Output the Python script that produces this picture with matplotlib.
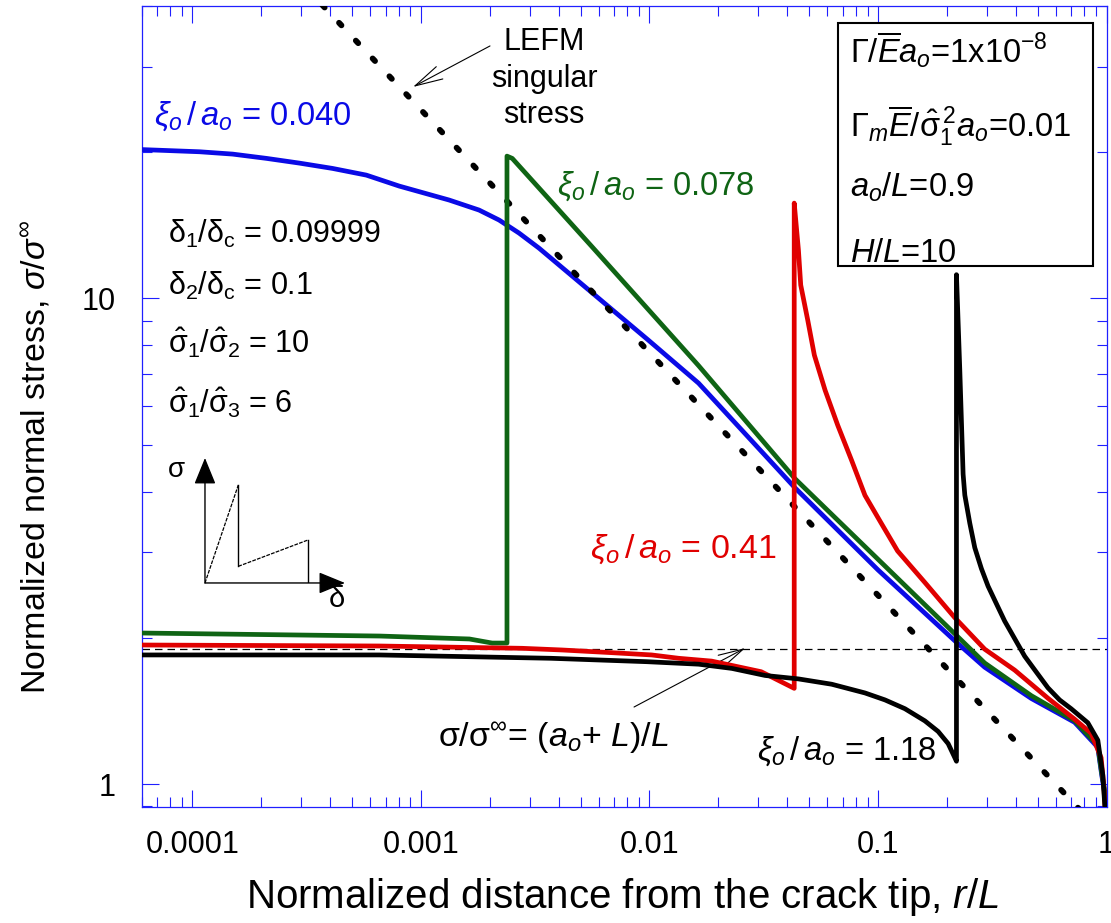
import matplotlib
matplotlib.use('Agg')
import matplotlib.pyplot as plt
from matplotlib.patches import Rectangle
from matplotlib.ticker import FixedLocator, FixedFormatter, LogLocator, NullFormatter

plt.rcParams['font.family'] = ['Liberation Sans', 'DejaVu Sans']
plt.rcParams['mathtext.fontset'] = 'custom'
plt.rcParams['mathtext.rm'] = 'Liberation Sans'
plt.rcParams['mathtext.it'] = 'Liberation Sans:italic'
plt.rcParams['mathtext.bf'] = 'Liberation Sans:bold'
plt.rcParams['mathtext.sf'] = 'Liberation Sans'
plt.rcParams['mathtext.default'] = 'regular'

# ---------------- data ----------------
x_ticks = [1e-4, 1e-3, 1e-2, 1e-1, 1]
x_tick_labels = ['0.0001', '0.001', '0.01', '0.1', '1']
y_ticks = [1, 10]
y_tick_labels = ['1', '10']

# xi_o/a_o = 0.040 (blue)
blue_x = [6.0e-5, 1.076e-4, 1.50e-4, 2.111e-4, 2.941e-4, 4.099e-4, 5.769e-4, 8.04e-4,
          1.329e-3, 1.797e-3, 2.197e-3, 2.687e-3, 3.286e-3, 6.0e-3, 9.9e-3, 0.0164,
          0.0434, 0.100, 0.220, 0.293, 0.469, 0.725, 0.916, 0.954, 0.985, 1.0]
blue_y = [20.25, 20.04, 19.82, 19.42, 18.99, 18.52, 17.94, 17.03,
          15.94, 15.20, 14.50, 13.63, 12.69, 10.0, 8.2, 6.69,
          4.07, 2.76, 1.96, 1.74, 1.50, 1.34, 1.19, 1.04, 0.95, 0.80]

# xi_o/a_o = 0.078 (green)
green_x = [6.0e-5, 6.6e-4, 1.63e-3, 2.05e-3, 2.38e-3, 2.38e-3, 2.51e-3, 5.61e-3,
           0.0164, 0.0434, 0.220, 0.293, 0.469, 0.725, 0.916, 0.954, 0.985, 1.0]
green_y = [2.046, 2.017, 1.989, 1.951, 1.951, 19.63, 19.42, 12.77,
           7.27, 4.25, 2.025, 1.775, 1.52, 1.35, 1.20, 1.05, 0.96, 0.80]

# xi_o/a_o = 0.41 (red)
red_x = [6.0e-5, 6.57e-4, 2.77e-3, 4.14e-3, 6.85e-3, 0.01023, 0.01343, 0.01871,
         0.03083, 0.0430, 0.0430, 0.04487, 0.04592, 0.04928, 0.05268, 0.05869,
         0.06666, 0.07666, 0.08772, 0.1031, 0.1218, 0.1604, 0.2169, 0.2932,
         0.3965, 0.5543, 0.7249, 0.8566, 0.9471, 0.9731, 1.0]
red_y = [1.933, 1.924, 1.903, 1.888, 1.864, 1.844, 1.815, 1.791,
         1.703, 1.574, 15.71, 12.57, 10.65, 9.02, 7.64, 6.47,
         5.48, 4.64, 3.93, 3.45, 3.02, 2.60, 2.20, 1.895,
         1.716, 1.502, 1.360, 1.272, 1.133, 0.992, 0.80]

# xi_o/a_o = 1.18 (black)
black_x = [6.0e-5, 6.57e-4, 3.71e-3, 9.73e-3, 0.01642, 0.02294, 0.03210, 0.04487,
           0.06272, 0.08772, 0.1073, 0.1312, 0.1604, 0.1833, 0.2028, 0.2169,
           0.2205, 0.2205, 0.2280, 0.2358, 0.2399, 0.2522, 0.2652, 0.2835, 0.3032,
           0.3296, 0.3585, 0.3965, 0.4385, 0.4927, 0.5543, 0.6233, 0.7003, 0.8284,
           0.9162, 0.9634, 1.0]
black_y = [1.844, 1.844, 1.815, 1.786, 1.765, 1.730, 1.673, 1.646,
           1.605, 1.540, 1.490, 1.429, 1.349, 1.283, 1.211, 1.133,
           1.114, 11.19, 7.15, 4.346, 3.934, 3.445, 3.067, 2.777, 2.555,
           2.352, 2.165, 1.992, 1.833, 1.701, 1.578, 1.490, 1.429, 1.337,
           1.231, 1.043, 0.80]

# LEFM singular stress (slope -1/2 in log-log)
lefm_x = [3.7e-4, 1.0]
lefm_y = [40.2, 0.774]

# far-field level (a_o + L)/L
farfield_level = 1.9

# traction-separation schematic (arbitrary units)
sch_d = [0, 1.0, 1.0, 3.1, 3.1]
sch_s = [0, 1.0, 0.17, 0.44, 0.0]

BLUE_AX = '#2020ff'
C_BLUE = '#0a0ae6'
C_GREEN = '#0f6414'
C_RED = '#e00000'
C_BLACK = '#000000'

fig = plt.figure(figsize=(11.11, 9.23), dpi=100)
ax = fig.add_axes([0.12754, 0.12600, 0.86841, 0.86750])

lw_curve = 3.4
ax.plot(blue_x, blue_y, color=C_BLUE, lw=lw_curve, zorder=3, solid_joinstyle='round')
ax.plot(green_x, green_y, color=C_GREEN, lw=lw_curve, zorder=3.1, solid_joinstyle='round')
ax.plot(red_x, red_y, color=C_RED, lw=lw_curve, zorder=3.2, solid_joinstyle='round')
ax.plot(black_x, black_y, color=C_BLACK, lw=lw_curve, zorder=3.3, solid_joinstyle='round')
ax.plot(lefm_x, lefm_y, color='black', lw=4.2, ls=(0, (0.6, 3.6)),
        dash_capstyle='round', zorder=3.05)
ax.axhline(farfield_level, color='black', lw=0.9, ls=(0, (6, 4)), zorder=2.5)

ax.set_xscale('log')
ax.set_yscale('log')
ax.set_xlim(6.0e-5, 1.0)
ax.set_ylim(0.898, 40.0)

ax.xaxis.set_major_locator(FixedLocator(x_ticks))
ax.xaxis.set_major_formatter(FixedFormatter(x_tick_labels))
ax.yaxis.set_major_locator(FixedLocator(y_ticks))
ax.yaxis.set_major_formatter(FixedFormatter(y_tick_labels))
ax.xaxis.set_minor_locator(LogLocator(base=10, subs=range(2, 10), numticks=20))
ax.yaxis.set_minor_locator(LogLocator(base=10, subs=range(2, 10), numticks=20))
ax.xaxis.set_minor_formatter(NullFormatter())
ax.yaxis.set_minor_formatter(NullFormatter())

ax.tick_params(which='both', direction='in', top=True, right=True,
               color=BLUE_AX, labelcolor='black')
ax.tick_params(which='major', length=12.2, width=0.8, labelsize=22)
ax.tick_params(which='minor', length=7.2, width=0.8)
ax.tick_params(axis='x', which='major', pad=17)
ax.tick_params(axis='y', which='major', pad=19)
for sp in ax.spines.values():
    sp.set_color(BLUE_AX)
    sp.set_linewidth(0.9)

ax.set_xlabel(r'Normalized distance from the crack tip, $\mathit{r/L}$', fontsize=29)
ax.set_ylabel(r'Normalized normal stress, $\mathit{\sigma}/\mathit{\sigma}^{\infty}$', fontsize=24.5)
ax.xaxis.set_label_coords(0.498, -0.087)
ax.yaxis.set_label_coords(-0.092, 0.437)

FS = 22
FSX = 23.5
T = ax.transAxes
xi_lbl = r'$\mathit{\xi}_{\mathit{o}}\,/\,\mathit{a}_{\mathit{o}}$'
ax.text(0.0127, 0.8514, xi_lbl + ' = 0.040', color=C_BLUE, fontsize=FSX, transform=T, va='baseline')
ax.text(0.4305, 0.7640, xi_lbl + ' = 0.078', color=C_GREEN, fontsize=FSX, transform=T, va='baseline')
ax.text(0.4647, 0.3107, xi_lbl + ' = 0.41', color=C_RED, fontsize=24.5, transform=T, va='baseline')
ax.text(0.6378, 0.0583, xi_lbl + ' = 1.18', color='black', fontsize=FSX, transform=T, va='baseline')

# parameter block (left)
ax.text(0.0276, 0.7036, r'$\delta_1/\delta_c$ = 0.09999', fontsize=FS, transform=T, va='baseline')
ax.text(0.0276, 0.6391, r'$\delta_2/\delta_c$ = 0.1', fontsize=FS, transform=T, va='baseline')
ax.text(0.0276, 0.5662, r'$\hat{\sigma}_1/\hat{\sigma}_2$ = 10', fontsize=FS, transform=T, va='baseline')
ax.text(0.0276, 0.4913, r'$\hat{\sigma}_1/\hat{\sigma}_3$ = 6', fontsize=FS, transform=T, va='baseline')

# parameter box (right)
FSB = 23.5
ax.add_patch(Rectangle((0.7217, 0.6753), 0.2643, 0.3035, transform=T,
                       facecolor='white', edgecolor='black', lw=1.5, zorder=5))
ax.text(0.7342, 0.9288, r'$\Gamma/\overline{\mathit{E}}\mathit{a}_{\mathit{o}}$=1x10$^{-8}$',
        fontsize=FSB, transform=T, va='baseline', zorder=6)
ax.text(0.7342, 0.8364, r'$\Gamma_{\mathit{m}}\overline{\mathit{E}}/\hat{\sigma}_1^{\,2}\mathit{a}_{\mathit{o}}$=0.01',
        fontsize=FSB, transform=T, va='baseline', zorder=6)
ax.text(0.7342, 0.7614, r'$\mathit{a}_{\mathit{o}}/\mathit{L}$=0.9',
        fontsize=FSB, transform=T, va='baseline', zorder=6)
ax.text(0.7342, 0.6802, r'$\mathit{H}/\mathit{L}$=10',
        fontsize=FSB, transform=T, va='baseline', zorder=6)

# LEFM annotation
for txt, yb in (('LEFM', 0.9451), ('singular', 0.8989), ('stress', 0.8539)):
    ax.text(0.4170, yb, txt, fontsize=FS, transform=T, ha='center', va='baseline')
ax.annotate('', xy=(0.2812, 0.8989), xytext=(0.3610, 0.9501), xycoords=T, textcoords=T,
            arrowprops=dict(arrowstyle='->,head_length=2.0,head_width=0.5', lw=0.8,
                            color='black', shrinkA=0, shrinkB=0, mutation_scale=10))

# far-field annotation
ax.text(0.3070, 0.0746, r'$\sigma/\sigma^{\infty}$= ($\mathit{a}_{\mathit{o}}$+ $\mathit{L}$)/$\mathit{L}$',
        fontsize=24.5, transform=T, va='baseline')
ax.annotate('', xy=(0.6256, 0.1982), xytext=(0.5103, 0.1245), xycoords=T, textcoords=T,
            arrowprops=dict(arrowstyle='->,head_length=1.8,head_width=0.45', lw=0.8,
                            color='black', shrinkA=0, shrinkB=0, mutation_scale=10))

# traction-separation schematic inset
axi = fig.add_axes([0.1845, 0.3684, 0.1260, 0.1354])
axi.set_xlim(0, 4.2)
axi.set_ylim(0, 1.276)
axi.axis('off')
axi.plot(sch_d[:2], sch_s[:2], color='black', lw=0.9, ls=(0, (3, 1)))
axi.plot(sch_d[1:3], sch_s[1:3], color='black', lw=1.0)
axi.plot(sch_d[2:4], sch_s[2:4], color='black', lw=0.9, ls=(0, (3, 1)))
axi.plot(sch_d[3:5], sch_s[3:5], color='black', lw=1.0)
axi.annotate('', xy=(0, 1.276), xytext=(0, 0),
             arrowprops=dict(arrowstyle='-|>,head_length=1.1,head_width=0.45', lw=1.0,
                             color='black', shrinkA=0, shrinkB=0, mutation_scale=15))
axi.annotate('', xy=(4.2, 0), xytext=(0, 0),
             arrowprops=dict(arrowstyle='-|>,head_length=1.1,head_width=0.45', lw=1.0,
                             color='black', shrinkA=0, shrinkB=0, mutation_scale=15))
fig.text(0.1584, 0.4908, r'$\sigma$', fontsize=20, ha='center', va='center')
fig.text(0.3033, 0.3510, r'$\delta$', fontsize=21, ha='center', va='center')

fig.savefig('out.png', dpi=100)
